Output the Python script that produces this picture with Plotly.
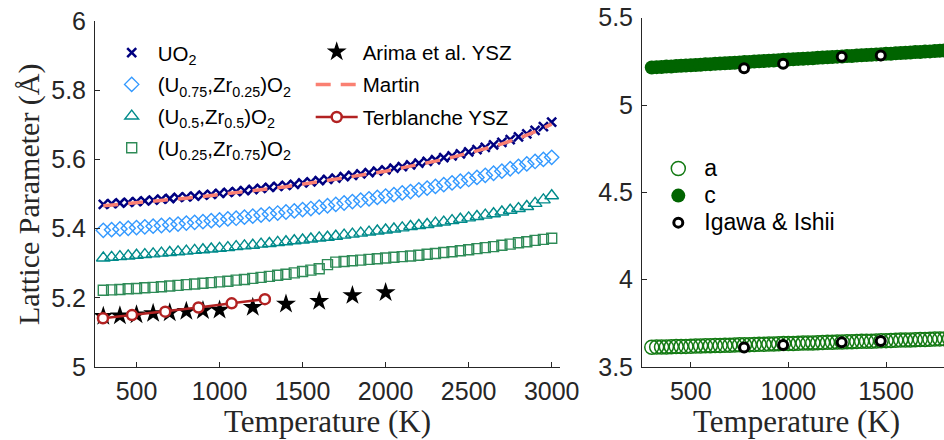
import plotly.graph_objects as go

# ---------------- Left panel data ----------------
temp_grid = [300, 350, 400, 450, 500, 550, 600, 650, 700, 750, 800, 850, 900, 950,
             1000, 1050, 1100, 1150, 1200, 1250, 1300, 1350, 1400, 1450, 1500, 1550,
             1600, 1650, 1700, 1750, 1800, 1850, 1900, 1950, 2000, 2050, 2100, 2150,
             2200, 2250, 2300, 2350, 2400, 2450, 2500, 2550, 2600, 2650, 2700, 2750,
             2800, 2850, 2900, 2950, 3000]

uo2 = [5.470, 5.472, 5.474, 5.476, 5.478, 5.480, 5.482, 5.485, 5.487, 5.490,
       5.492, 5.494, 5.497, 5.499, 5.502, 5.505, 5.507, 5.510, 5.513, 5.516,
       5.519, 5.522, 5.525, 5.528, 5.532, 5.535, 5.539, 5.542, 5.546, 5.550,
       5.554, 5.558, 5.562, 5.566, 5.570, 5.575, 5.579, 5.584, 5.589, 5.594,
       5.599, 5.605, 5.610, 5.616, 5.622, 5.628, 5.635, 5.642, 5.649, 5.657,
       5.665, 5.674, 5.684, 5.695, 5.708]

u75 = [5.395, 5.397, 5.399, 5.401, 5.403, 5.405, 5.407, 5.409, 5.411, 5.413,
       5.416, 5.418, 5.420, 5.423, 5.425, 5.428, 5.430, 5.433, 5.436, 5.439,
       5.442, 5.445, 5.448, 5.451, 5.455, 5.458, 5.462, 5.466, 5.470, 5.474,
       5.478, 5.482, 5.486, 5.490, 5.494, 5.498, 5.503, 5.507, 5.512, 5.517,
       5.522, 5.527, 5.532, 5.537, 5.542, 5.548, 5.554, 5.560, 5.566, 5.573,
       5.580, 5.587, 5.594, 5.600, 5.606]

u50 = [5.315, 5.317, 5.319, 5.321, 5.323, 5.325, 5.327, 5.329, 5.331, 5.333,
       5.335, 5.337, 5.339, 5.341, 5.343, 5.345, 5.348, 5.350, 5.352, 5.355,
       5.357, 5.360, 5.362, 5.365, 5.367, 5.370, 5.373, 5.375, 5.378, 5.381,
       5.384, 5.387, 5.390, 5.393, 5.396, 5.399, 5.402, 5.406, 5.409, 5.412,
       5.416, 5.419, 5.423, 5.427, 5.431, 5.435, 5.439, 5.443, 5.448, 5.453,
       5.458, 5.464, 5.473, 5.483, 5.495]

u25 = [5.222, 5.223, 5.224, 5.226, 5.227, 5.229, 5.230, 5.232, 5.234, 5.236,
       5.238, 5.240, 5.242, 5.244, 5.246, 5.248, 5.251, 5.253, 5.256, 5.259,
       5.262, 5.265, 5.268, 5.272, 5.276, 5.280, 5.284, 5.296, 5.303, 5.305,
       5.307, 5.309, 5.311, 5.313, 5.315, 5.317, 5.319, 5.321, 5.323, 5.326,
       5.328, 5.331, 5.333, 5.336, 5.339, 5.342, 5.345, 5.348, 5.352, 5.355,
       5.359, 5.362, 5.366, 5.369, 5.372]

martin_temp = [300, 400, 500, 600, 700, 800, 900, 1000, 1100, 1200, 1300, 1400,
               1500, 1600, 1700, 1800, 1900, 2000, 2100, 2200, 2300, 2400, 2500,
               2600, 2700, 2800, 2900, 3000]
martin = [5.466, 5.470, 5.474, 5.478, 5.483, 5.488, 5.493, 5.498, 5.503, 5.509,
          5.515, 5.521, 5.528, 5.535, 5.542, 5.550, 5.558, 5.566, 5.575, 5.585,
          5.595, 5.606, 5.618, 5.631, 5.645, 5.661, 5.680, 5.702]

arima_temp = [300, 400, 500, 600, 700, 800, 900, 1000, 1200, 1400, 1600, 1800, 2000]
arima = [5.147, 5.148, 5.151, 5.155, 5.157, 5.161, 5.163, 5.165, 5.173, 5.182,
         5.190, 5.207, 5.215]

terb_temp = [298, 473, 673, 873, 1073, 1273]
terb = [5.141, 5.150, 5.160, 5.172, 5.184, 5.196]

# ---------------- Right panel data ----------------
temp_fine = [300, 325, 350, 375, 400, 425, 450, 475, 500, 525, 550, 575, 600, 625,
             650, 675, 700, 725, 750, 775, 800, 825, 850, 875, 900, 925, 950, 975,
             1000, 1025, 1050, 1075, 1100, 1125, 1150, 1175, 1200, 1225, 1250, 1275,
             1300, 1325, 1350, 1375, 1400, 1425, 1450, 1475, 1500, 1525, 1550, 1575,
             1600, 1625, 1650, 1675, 1700, 1725, 1750, 1775, 1800, 1825, 1850]

a_param = [3.613, 3.614, 3.614, 3.615, 3.616, 3.617, 3.617, 3.618, 3.619, 3.620,
           3.620, 3.621, 3.622, 3.623, 3.623, 3.624, 3.625, 3.626, 3.627, 3.627,
           3.628, 3.629, 3.630, 3.630, 3.631, 3.632, 3.633, 3.634, 3.634, 3.635,
           3.636, 3.637, 3.638, 3.638, 3.639, 3.640, 3.641, 3.642, 3.643, 3.643,
           3.644, 3.645, 3.646, 3.647, 3.648, 3.648, 3.649, 3.650, 3.651, 3.652,
           3.653, 3.654, 3.654, 3.655, 3.656, 3.657, 3.658, 3.659, 3.660, 3.661,
           3.661, 3.662, 3.663]

c_param = [5.215, 5.217, 5.218, 5.220, 5.221, 5.223, 5.225, 5.226, 5.228, 5.229,
           5.231, 5.233, 5.234, 5.236, 5.238, 5.239, 5.241, 5.242, 5.244, 5.246,
           5.247, 5.249, 5.251, 5.252, 5.254, 5.255, 5.257, 5.259, 5.260, 5.262,
           5.264, 5.265, 5.267, 5.268, 5.270, 5.272, 5.273, 5.275, 5.277, 5.278,
           5.280, 5.281, 5.283, 5.285, 5.286, 5.288, 5.290, 5.291, 5.293, 5.294,
           5.296, 5.298, 5.299, 5.301, 5.303, 5.304, 5.306, 5.307, 5.309, 5.311,
           5.312, 5.314, 5.316]

igawa_temp = [773, 973, 1273, 1473]
igawa_a = [3.611, 3.626, 3.641, 3.649]
igawa_c = [5.211, 5.236, 5.276, 5.284]

left_xticks = [500, 1000, 1500, 2000, 2500, 3000]
left_yticks = [5, 5.2, 5.4, 5.6, 5.8, 6]
left_ytext = ["5", "5.2", "5.4", "5.6", "5.8", "6"]
right_xticks = [500, 1000, 1500]
right_yticks = [3.5, 4, 4.5, 5, 5.5]
right_ytext = ["3.5", "4", "4.5", "5", "5.5"]

SANS = "Liberation Sans, Arial, sans-serif"
SERIF = "Liberation Serif, Times New Roman, serif"
AX = "#262626"

fig = go.Figure()

def leg_name(s, px):
    return f'<span style="font-size:{px}px">{s}</span>'

# Left panel traces
fig.add_trace(go.Scatter(x=temp_grid, y=uo2, mode="markers", name="UO<sub>2</sub>",
                         marker=dict(symbol="x-thin", size=9, color="#000080",
                                     line=dict(width=2.5, color="#000080")),
                         legend="legend", legendgroup="g1"))
fig.add_trace(go.Scatter(x=temp_grid, y=u75, mode="markers",
                         name="(U<sub>0.75</sub>,Zr<sub>0.25</sub>)O<sub>2</sub>",
                         marker=dict(symbol="diamond-open", size=11, color="#3399FF",
                                     line=dict(width=1.4, color="#3399FF")),
                         legend="legend", legendgroup="g2"))
fig.add_trace(go.Scatter(x=temp_grid, y=u50, mode="markers",
                         name="(U<sub>0.5</sub>,Zr<sub>0.5</sub>)O<sub>2</sub>",
                         marker=dict(symbol="triangle-up-open", size=12, color="#008B8B",
                                     line=dict(width=1.4, color="#008B8B")),
                         legend="legend", legendgroup="g3"))
fig.add_trace(go.Scatter(x=temp_grid, y=u25, mode="markers",
                         name="(U<sub>0.25</sub>,Zr<sub>0.75</sub>)O<sub>2</sub>",
                         marker=dict(symbol="square-open", size=10, color="#2E8B57",
                                     line=dict(width=1.4, color="#2E8B57")),
                         legend="legend", legendgroup="g4"))
fig.add_trace(go.Scatter(x=arima_temp, y=arima, mode="markers", name="Arima et al. YSZ",
                         marker=dict(symbol="star", size=15, color="black"),
                         legend="legend2", legendgroup="h1"))
fig.add_trace(go.Scatter(x=martin_temp, y=martin, mode="lines", name="Martin",
                         line=dict(color="#FA8072", width=3.5, dash="15px,10px"),
                         legend="legend2", legendgroup="h2"))
fig.add_trace(go.Scatter(x=terb_temp, y=terb, mode="lines+markers", name="Terblanche YSZ",
                         line=dict(color="#B22222", width=2.5),
                         marker=dict(symbol="circle", size=10, color="white",
                                     line=dict(width=2.5, color="#B22222")),
                         legend="legend2", legendgroup="h3"))

# Right panel traces
fig.add_trace(go.Scatter(x=temp_fine, y=a_param, mode="markers", name=leg_name("a", 23),
                         xaxis="x2", yaxis="y2",
                         marker=dict(symbol="circle-open", size=14, color="#137a13",
                                     line=dict(width=1.5, color="#137a13")),
                         legend="legend3"))
fig.add_trace(go.Scatter(x=temp_fine, y=c_param, mode="markers", name=leg_name("c", 23),
                         xaxis="x2", yaxis="y2",
                         marker=dict(symbol="circle", size=14, color="#006400"),
                         legend="legend3"))
fig.add_trace(go.Scatter(x=igawa_temp + igawa_temp, y=igawa_a + igawa_c, mode="markers",
                         name=leg_name("Igawa &amp; Ishii", 23),
                         xaxis="x2", yaxis="y2",
                         marker=dict(symbol="circle", size=9, color="white",
                                     line=dict(width=3, color="black")),
                         legend="legend3"))

axis_common = dict(showline=True, linecolor=AX, linewidth=1, mirror=False,
                   ticks="inside", ticklen=5, tickwidth=1, tickcolor=AX,
                   showgrid=False, zeroline=False, automargin=False,
                   tickfont=dict(family=SANS, size=25, color=AX))

fig.update_layout(
    width=944, height=440,
    margin=dict(l=0, r=0, t=0, b=0, pad=0, autoexpand=False),
    paper_bgcolor="white", plot_bgcolor="white",
    showlegend=True,
    xaxis=dict(domain=[95/944, 560/944], range=[250, 3050], tickvals=left_xticks,
               ticklabelstandoff=2, anchor="y", **axis_common),
    yaxis=dict(domain=[73/440, 419/440], range=[5, 6], tickvals=left_yticks,
               ticktext=left_ytext, ticklabelstandoff=3, anchor="x", **axis_common),
    xaxis2=dict(domain=[642/944, 1.0], range=[250, 1797], tickvals=right_xticks,
                ticklabelstandoff=2, anchor="y2", **axis_common),
    yaxis2=dict(domain=[73/440, 422.3/440], range=[3.5, 5.5], tickvals=right_yticks,
                ticktext=right_ytext, ticklabelstandoff=3, anchor="x2", **axis_common),
    legend=dict(x=105.7/944, y=(440-32.9)/440, xanchor="left", yanchor="top",
                bgcolor="rgba(0,0,0,0)", borderwidth=0, itemwidth=42,
                tracegroupgap=2, traceorder="grouped",
                font=dict(family=SANS, size=20.5, color="black")),
    legend2=dict(x=310.7/944, y=(440-31.9)/440, xanchor="left", yanchor="top",
                 bgcolor="rgba(0,0,0,0)", borderwidth=0, itemwidth=42,
                 tracegroupgap=3, traceorder="grouped",
                 font=dict(family=SANS, size=20.5, color="black")),
    legend3=dict(x=652.3/944, y=(440-150)/440, xanchor="left", yanchor="top",
                 bgcolor="rgba(0,0,0,0)", borderwidth=0, itemwidth=42,
                 font=dict(family=SANS, size=18.5, color="black")),
    annotations=[
        dict(text="Temperature (K)", x=327.5/944, y=(440-421)/440, xref="paper", yref="paper",
             xanchor="center", yanchor="middle", showarrow=False,
             font=dict(family=SERIF, size=31, color=AX)),
        dict(text="Temperature (K)", x=796.7/944, y=(440-421)/440, xref="paper", yref="paper",
             xanchor="center", yanchor="middle", showarrow=False,
             font=dict(family=SERIF, size=31, color=AX)),
        dict(text="Lattice Parameter (Å)", x=29/944, y=(440-194)/440, xref="paper",
             yref="paper", xanchor="center", yanchor="middle", showarrow=False,
             textangle=-90, font=dict(family=SERIF, size=30, color=AX)),
    ],
)

fig.write_html("out.html")
